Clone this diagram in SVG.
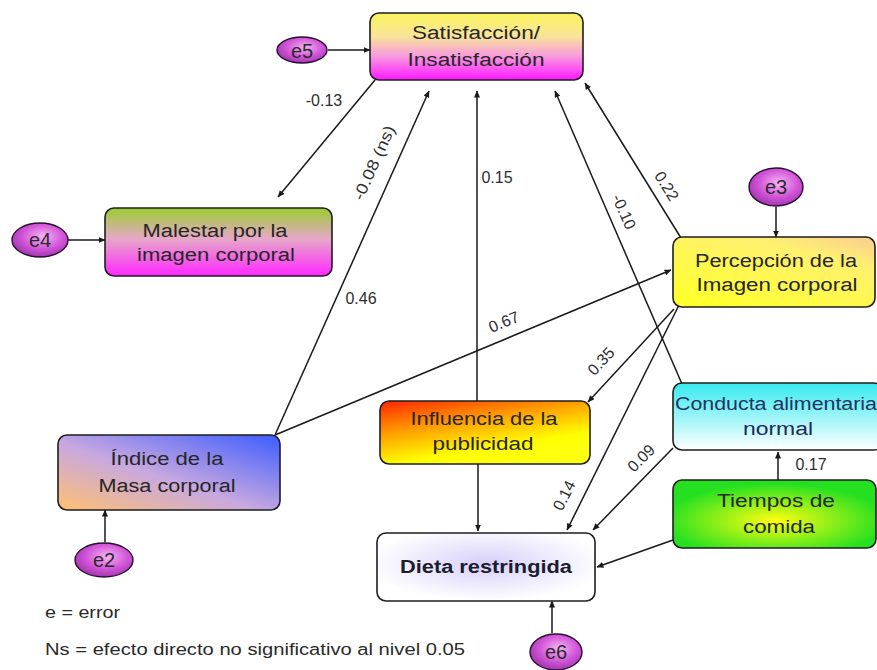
<svg xmlns="http://www.w3.org/2000/svg" width="877" height="670" viewBox="0 0 877 670">
  <defs>
    <style>
      .box { stroke: #1e1e1e; stroke-width: 1.6; }
      .node-text { font-family: "Liberation Sans", Arial, sans-serif; font-size: 18px; fill: #262626; text-anchor: middle; }
      .err { fill: url(#errFill); stroke: #2a1030; stroke-width: 1.4; }
      .err-text { font-family: "Liberation Sans", Arial, sans-serif; font-size: 20px; fill: #2a2a2a; text-anchor: middle; }
      .edge { stroke: #1a1a1a; stroke-width: 1.5; fill: none; marker-end: url(#arrow); }
      .coef { font-family: "Liberation Sans", Arial, sans-serif; font-size: 16px; fill: #2e2e2e; text-anchor: middle; }
      .legend { font-family: "Liberation Sans", Arial, sans-serif; font-size: 16px; fill: #2a2a2a; }
    </style>
    <marker id="arrow" viewBox="0 0 8 7" refX="7.5" refY="3.5" markerWidth="7" markerHeight="6" markerUnits="userSpaceOnUse" orient="auto">
      <path d="M0,0 L8,3.5 L0,7 z" fill="#1a1a1a"/>
    </marker>
    <radialGradient id="errFill" cx="0.55" cy="0.4" r="0.65">
      <stop offset="0" stop-color="#f6b4f4"/>
      <stop offset="0.55" stop-color="#d256d8"/>
      <stop offset="1" stop-color="#9a30a8"/>
    </radialGradient>
    <linearGradient id="satFill" x1="0" y1="0" x2="0" y2="1">
      <stop offset="0" stop-color="#faf45c"/>
      <stop offset="0.35" stop-color="#f8e49a"/>
      <stop offset="0.65" stop-color="#f898e0"/>
      <stop offset="1" stop-color="#ff18ff"/>
    </linearGradient>
    <linearGradient id="malFill" x1="0" y1="0" x2="0" y2="1">
      <stop offset="0" stop-color="#9ccc30"/>
      <stop offset="0.45" stop-color="#e6a8c8"/>
      <stop offset="1" stop-color="#ff28ff"/>
    </linearGradient>
    <linearGradient id="perFill" x1="1" y1="0" x2="0.3" y2="1">
      <stop offset="0" stop-color="#f8cc94"/>
      <stop offset="0.3" stop-color="#fff070"/>
      <stop offset="1" stop-color="#ffff30"/>
    </linearGradient>
    <linearGradient id="imcFill" x1="0" y1="1" x2="1" y2="0">
      <stop offset="0" stop-color="#ffc070"/>
      <stop offset="0.45" stop-color="#c8a8e0"/>
      <stop offset="1" stop-color="#3c5cff"/>
    </linearGradient>
    <linearGradient id="pubFill" x1="0" y1="0" x2="0.55" y2="1">
      <stop offset="0" stop-color="#ff2400"/>
      <stop offset="0.4" stop-color="#ff9a00"/>
      <stop offset="0.8" stop-color="#ffff00"/>
      <stop offset="1" stop-color="#ffff10"/>
    </linearGradient>
    <linearGradient id="conFill" x1="0" y1="0" x2="0" y2="1">
      <stop offset="0" stop-color="#36eaf0"/>
      <stop offset="1" stop-color="#ffffff"/>
    </linearGradient>
    <radialGradient id="tieFill" cx="0.5" cy="0.6" r="0.55">
      <stop offset="0" stop-color="#ffff10"/>
      <stop offset="1" stop-color="#24e020"/>
    </radialGradient>
    <radialGradient id="dieFill" cx="0.5" cy="0.45" r="0.55">
      <stop offset="0" stop-color="#d6d0fa"/>
      <stop offset="1" stop-color="#ffffff"/>
    </radialGradient>
  </defs>

  <rect width="877" height="670" fill="#ffffff"/>

  <!-- paths between variables -->
  <g id="connectors">
    <line class="edge" x1="328" y1="50" x2="370" y2="50"/>
    <line class="edge" x1="68" y1="240" x2="105" y2="240"/>
    <line class="edge" x1="776" y1="207" x2="776" y2="237"/>
    <line class="edge" x1="105" y1="542" x2="105" y2="510"/>
    <line class="edge" x1="552" y1="633" x2="552" y2="601"/>
    <line class="edge" x1="375" y1="80" x2="278" y2="197"/>
    <line class="edge" x1="275" y1="435" x2="429" y2="91"/>
    <line class="edge" x1="477" y1="401" x2="477" y2="91"/>
    <line class="edge" x1="478" y1="464" x2="478" y2="531"/>
    <line class="edge" x1="275" y1="435" x2="671" y2="270"/>
    <line class="edge" x1="681" y1="238" x2="585" y2="83"/>
    <line class="edge" x1="682" y1="384" x2="555" y2="91"/>
    <line class="edge" x1="674" y1="309" x2="588" y2="402"/>
    <line class="edge" x1="679" y1="305" x2="567" y2="530"/>
    <line class="edge" x1="673" y1="448" x2="593" y2="530"/>
    <line class="edge" x1="778" y1="480" x2="778" y2="452"/>
    <line class="edge" x1="673" y1="540" x2="597" y2="567"/>

    <text class="coef" x="324" y="106">-0.13</text>
    <text class="coef" transform="translate(379,165) rotate(-65.7)" textLength="80" lengthAdjust="spacingAndGlyphs">-0.08 (ns)</text>
    <text class="coef" x="361" y="304">0.46</text>
    <text class="coef" x="497" y="183">0.15</text>
    <text class="coef" transform="translate(619,214) rotate(66)">-0.10</text>
    <text class="coef" transform="translate(662,189) rotate(58)">0.22</text>
    <text class="coef" transform="translate(506,327) rotate(-22.5)">0.67</text>
    <text class="coef" transform="translate(605,365) rotate(-47)">0.35</text>
    <text class="coef" transform="translate(569,498) rotate(-63)">0.14</text>
    <text class="coef" transform="translate(645,462) rotate(-45)">0.09</text>
    <text class="coef" x="811" y="470">0.17</text>
  </g>

  <g id="satisfaccion">
    <rect class="box" x="370" y="13" width="213" height="67" rx="9" fill="url(#satFill)"/>
    <text class="node-text" x="476" y="39" textLength="128" lengthAdjust="spacingAndGlyphs">Satisfacción/</text>
    <text class="node-text" x="476" y="66" textLength="137" lengthAdjust="spacingAndGlyphs">Insatisfacción</text>
  </g>

  <g id="e5">
    <ellipse class="err" cx="302" cy="50" rx="25" ry="13"/>
    <text class="err-text" x="302" y="58">e5</text>
  </g>

  <g id="malestar">
    <rect class="box" x="105" y="208" width="227" height="68" rx="9" fill="url(#malFill)"/>
    <text class="node-text" x="215" y="237" textLength="145" lengthAdjust="spacingAndGlyphs">Malestar por la</text>
    <text class="node-text" x="216" y="261" textLength="158" lengthAdjust="spacingAndGlyphs">imagen corporal</text>
  </g>

  <g id="e4">
    <ellipse class="err" cx="40" cy="240" rx="28" ry="17"/>
    <text class="err-text" x="40" y="247">e4</text>
  </g>

  <g id="percepcion">
    <rect class="box" x="673" y="237" width="202" height="70" rx="9" fill="url(#perFill)"/>
    <text class="node-text" x="776" y="267" textLength="162" lengthAdjust="spacingAndGlyphs">Percepción de la</text>
    <text class="node-text" x="777" y="291" textLength="161" lengthAdjust="spacingAndGlyphs">Imagen corporal</text>
  </g>

  <g id="e3">
    <ellipse class="err" cx="776" cy="187" rx="27" ry="19"/>
    <text class="err-text" x="776" y="194">e3</text>
  </g>

  <g id="imc">
    <rect class="box" x="58" y="435" width="222" height="75" rx="9" fill="url(#imcFill)"/>
    <text class="node-text" x="167" y="465" textLength="113" lengthAdjust="spacingAndGlyphs">Índice de la</text>
    <text class="node-text" x="167" y="492" textLength="137" lengthAdjust="spacingAndGlyphs">Masa corporal</text>
  </g>

  <g id="e2">
    <ellipse class="err" cx="104" cy="560" rx="29" ry="17"/>
    <text class="err-text" x="104" y="567">e2</text>
  </g>

  <g id="publicidad">
    <rect class="box" x="380" y="401" width="210" height="63" rx="9" fill="url(#pubFill)"/>
    <text class="node-text" x="484" y="425" textLength="147" lengthAdjust="spacingAndGlyphs">Influencia de la</text>
    <text class="node-text" x="483" y="450" textLength="101" lengthAdjust="spacingAndGlyphs">publicidad</text>
  </g>

  <g id="conducta">
    <rect class="box" x="673" y="383" width="210" height="67" rx="9" fill="url(#conFill)"/>
    <text class="node-text" x="776" y="410" textLength="202" lengthAdjust="spacingAndGlyphs" style="fill:#1f3460">Conducta alimentaria</text>
    <text class="node-text" x="778" y="435" textLength="70" lengthAdjust="spacingAndGlyphs" style="fill:#1f2a58">normal</text>
  </g>

  <g id="tiempos">
    <rect class="box" x="673" y="480" width="203" height="68" rx="9" fill="url(#tieFill)"/>
    <text class="node-text" x="776" y="507" textLength="118" lengthAdjust="spacingAndGlyphs">Tiempos de</text>
    <text class="node-text" x="779" y="533" textLength="72" lengthAdjust="spacingAndGlyphs">comida</text>
  </g>

  <g id="dieta">
    <rect class="box" x="377" y="533" width="218" height="68" rx="9" fill="url(#dieFill)"/>
    <text class="node-text" x="486" y="573" textLength="172" lengthAdjust="spacingAndGlyphs" style="font-weight:bold;fill:#1c1c30">Dieta restringida</text>
  </g>

  <g id="e6">
    <ellipse class="err" cx="556" cy="652" rx="26" ry="18"/>
    <text class="err-text" x="556" y="659">e6</text>
  </g>

  <g id="legend">
    <text class="legend" x="45" y="618" textLength="75" lengthAdjust="spacingAndGlyphs">e = error</text>
    <text class="legend" x="45" y="655" textLength="420" lengthAdjust="spacingAndGlyphs">Ns = efecto directo no significativo al nivel 0.05</text>
  </g>
</svg>
